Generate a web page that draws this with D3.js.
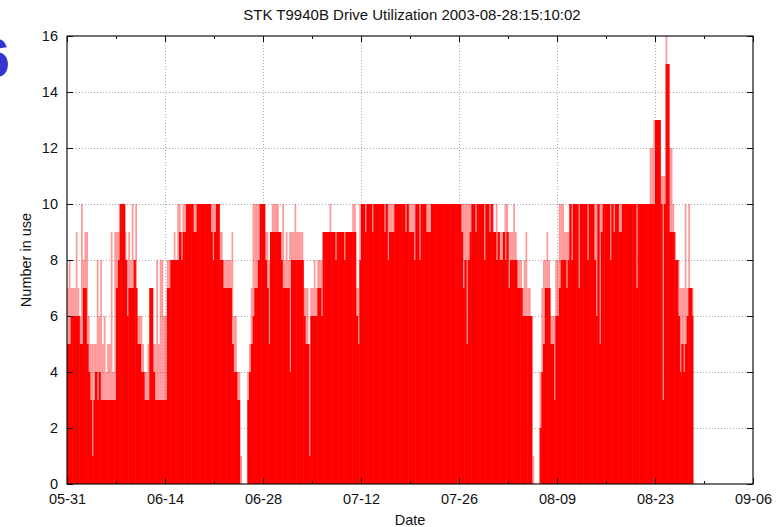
<!DOCTYPE html>
<html><head><meta charset="utf-8">
<script src="https://cdn.jsdelivr.net/npm/d3@7"></script>
<style>
body{margin:0;background:#fff;overflow:hidden}
text{font-family:"Liberation Sans",Arial,Helvetica,sans-serif;fill:#111}
</style>
</head><body>
<svg id="c" width="782" height="527"></svg>
<script>
// ---------------- data ----------------
const chartTitle = "STK T9940B Drive Utilization 2003-08-28:15:10:02";
const xAxisLabel = "Date";
const yAxisLabel = "Number in use";
const domainStart = "2003-05-31T00:00:00Z";
const domainEnd = "2003-09-06T00:00:00Z";
const binHours = 6; // one sample bin every 6 hours starting at domainStart
const xMajorTicks = ["2003-05-31","2003-06-14","2003-06-28","2003-07-12","2003-07-26","2003-08-09","2003-08-23","2003-09-06"];
const xMinorTicks = ["2003-06-07","2003-06-21","2003-07-05","2003-07-19","2003-08-02","2003-08-16","2003-08-30"];
const yTicks = [0,2,4,6,8,10,12,14,16];

// drives continuously in use during each 6h bin (solid)
const usageLow = [
 5,5,6,6, 6,6,6,5, 5,7,7,5, 4,3,1,3, 4,3,4,3, 3,3,3,3, 3,3,3,3, 7,8,10,10,
 10,8,6,7, 7,7,8,7, 5,5,4,4, 3,3,3,7, 7,4,3,3, 3,3,3,3, 3,7,7,8, 8,8,8,8,
 9,8,9,9, 10,10,10,10, 9,9,10,10, 10,10,10,10, 10,10,9,8, 9,10,10,8, 8,7,7,7, 7,7,5,4,
 4,3,3,0, 0,0,0,3, 4,5,6,7, 7,8,10,10, 10,8,7,5, 9,9,9,9, 9,9,8,7, 7,7,7,4,
 8,8,8,8, 8,8,8,6, 5,5,1,6, 6,6,6,7, 7,6,9,9, 9,9,9,9, 9,8,9,9, 9,9,8,9,
 9,9,9,9, 9,6,5,8, 10,10,9,10, 10,10,9,10, 10,10,10,10, 10,9,10,8, 9,9,9,10, 10,10,10,10,
 10,9,10,9, 9,9,8,10, 10,8,10,10, 10,9,9,9, 10,10,10,10, 10,10,10,10, 10,10,10,10, 10,10,10,10,
 10,9,7,8, 5,8,9,10, 10,9,10,10, 10,10,8,10, 10,9,10,9, 9,8,9,8, 8,9,8,9, 7,8,8,8,
 8,7,7,7, 6,6,6,6, 6,6,0,0, 0,0,2,4, 5,7,7,7, 5,5,3,6, 6,7,8,8, 8,7,8,10,
 8,10,10,10, 7,10,10,10, 10,8,10,10, 10,8,6,10, 5,9,10,10, 10,10,8,10, 9,10,10,9, 9,10,10,10,
 10,10,10,10, 10,7,10,10, 10,10,10,10, 10,10,10,10, 13,13,13,10, 3,10,15,15, 9,9,9,8, 8,6,4,5,
 4,5,6,7, 7,6
];
// peak number of drives in use during each 6h bin
const usagePeak = [
 7,8,7,7, 7,9,7,6, 10,8,9,9, 6,5,5,5, 5,8,6,8, 5,6,4,5, 5,9,4,9, 9,9,10,10,
 10,9,8,9, 8,10,8,10, 6,6,6,5, 4,4,5,7, 7,5,5,8, 5,8,8,6, 6,8,8,8, 8,9,8,10,
 10,9,10,10, 10,10,10,10, 10,10,10,10, 10,10,10,10, 10,10,10,10, 10,10,10,9, 9,8,8,8, 8,8,9,6,
 6,4,4,1, 0,0,0,4, 5,7,10,10, 10,10,10,10, 10,9,9,8, 9,10,10,10, 10,9,9,10, 8,9,8,9,
 9,9,10,9, 9,9,9,7, 7,7,5,7, 7,8,7,8, 8,8,9,9, 9,9,10,9, 9,9,9,9, 9,9,9,9,
 9,9,9,10, 10,7,7,10, 10,10,10,10, 10,10,10,10, 10,10,10,10, 10,10,10,10, 10,10,10,10, 10,10,10,10,
 10,10,10,10, 10,10,10,10, 10,10,10,10, 10,10,10,10, 10,10,10,10, 10,10,10,10, 10,10,10,10, 10,10,10,10,
 10,10,10,10, 10,10,10,10, 10,10,10,10, 10,10,10,10, 10,10,10,10, 9,10,9,9, 9,9,10,10, 9,9,9,10,
 9,8,8,8, 7,8,9,7, 7,6,1,0, 0,0,4,7, 8,8,9,8, 6,6,6,8, 8,10,10,10, 9,9,9,10,
 10,10,10,10, 10,10,10,10, 10,10,10,10, 10,10,10,10, 10,10,10,10, 10,10,10,10, 10,10,10,10, 10,10,10,10,
 10,10,10,10, 10,10,10,10, 10,10,10,10, 10,12,12,13, 13,13,13,11, 11,11,16,15, 12,12,10,9, 8,8,7,7,
 7,10,7,10, 7,7
];

// ---------------- drawing ----------------
const plot = {left:67, top:36, right:753, bottom:484};
const svg = d3.select("#c");
const parse = s => new Date(s.length === 10 ? s + "T00:00:00Z" : s);

const x = d3.scaleUtc().domain([parse(domainStart), parse(domainEnd)]).range([plot.left, plot.right]);
const y = d3.scaleLinear().domain([0, 16]).range([plot.bottom, plot.top]);

const t0 = +parse(domainStart), step = binHours * 3600 * 1000;
const bins = usageLow.map((lo, i) => ({
  a: new Date(t0 + i * step), b: new Date(t0 + (i + 1) * step),
  lo: lo, hi: Math.max(lo, usagePeak[i]),
  next: i + 1 < usageLow.length ? usageLow[i + 1] : 0
}));

// grid (behind data)
const grid = svg.append("g").attr("stroke", "#a8a8a8").attr("stroke-width", 1).attr("stroke-dasharray", "1,2");
grid.selectAll("line.gx").data(xMajorTicks.slice(1, -1)).join("line")
  .attr("x1", d => Math.round(x(parse(d))) + 0.5).attr("x2", d => Math.round(x(parse(d))) + 0.5)
  .attr("y1", plot.top).attr("y2", plot.bottom);
grid.selectAll("line.gy").data(yTicks.slice(1, -1)).join("line")
  .attr("y1", d => Math.round(y(d)) + 0.5).attr("y2", d => Math.round(y(d)) + 0.5)
  .attr("x1", plot.left).attr("x2", plot.right);

// peak band (light, many short spikes)
svg.append("g").selectAll("rect").data(bins.filter(d => d.hi > d.lo)).join("rect")
  .attr("x", d => x(d.a)).attr("width", d => x(d.b) - x(d.a))
  .attr("y", d => y(d.hi)).attr("height", d => y(d.lo) - y(d.hi))
  .attr("fill", "#ff0000").attr("fill-opacity", 0.4);

// solid usage (slightly overlapped so neighbouring bins merge)
svg.append("g").selectAll("rect").data(bins.filter(d => d.lo > 0)).join("rect")
  .attr("x", d => x(d.a)).attr("width", d => x(d.b) - x(d.a) + (d.next > 0 ? 0.6 : 0))
  .attr("y", d => y(d.lo)).attr("height", d => y(0) - y(d.lo))
  .attr("fill", "#ff0000");

// axes (ticks pointing inward)
const fmt = d3.utcFormat("%m-%d");
const majorDates = xMajorTicks.map(parse), minorDates = xMinorTicks.map(parse);
function styleAxis(g){ g.select(".domain").remove(); g.selectAll("line").attr("stroke","#111"); g.selectAll("text").style("font-size","14.5px").attr("fill","#111"); }

svg.append("g").attr("transform", `translate(0,${plot.bottom})`)
  .call(d3.axisBottom(x).tickValues(majorDates).tickFormat(fmt).tickSize(-6).tickPadding(10)).call(styleAxis);
svg.append("g").attr("transform", `translate(0,${plot.bottom})`)
  .call(d3.axisBottom(x).tickValues(minorDates).tickFormat("").tickSize(-3)).call(styleAxis);
svg.append("g").attr("transform", `translate(0,${plot.top})`)
  .call(d3.axisTop(x).tickValues(majorDates).tickFormat("").tickSize(-6)).call(styleAxis);
svg.append("g").attr("transform", `translate(0,${plot.top})`)
  .call(d3.axisTop(x).tickValues(minorDates).tickFormat("").tickSize(-3)).call(styleAxis);
svg.append("g").attr("transform", `translate(${plot.left},0)`)
  .call(d3.axisLeft(y).tickValues(yTicks).tickFormat(d3.format("d")).tickSize(-6).tickPadding(9)).call(styleAxis);
svg.append("g").attr("transform", `translate(${plot.right},0)`)
  .call(d3.axisRight(y).tickValues(yTicks).tickFormat("").tickSize(-6)).call(styleAxis);

// frame
svg.append("rect").attr("x", plot.left).attr("y", plot.top)
  .attr("width", plot.right - plot.left).attr("height", plot.bottom - plot.top)
  .attr("fill", "none").attr("stroke", "#111").attr("stroke-width", 1.2);

// labels
svg.append("text").attr("x", 412).attr("y", 20).attr("text-anchor", "middle")
  .style("font-size", "15px").text(chartTitle);
svg.append("text").attr("x", 410).attr("y", 525).attr("text-anchor", "middle")
  .style("font-size", "14.5px").text(xAxisLabel);
svg.append("text").attr("transform", "translate(31,260) rotate(-90)").attr("text-anchor", "middle")
  .style("font-size", "14.5px").text(yAxisLabel);

// slide number fragment, clipped by the left edge as in the original slide
svg.append("text").attr("x", 10).attr("y", 77).attr("text-anchor", "end")
  .style("font-size", "56px").style("font-weight", "bold").style("fill", "#3434d0").text("6");
</script>
</body></html>
